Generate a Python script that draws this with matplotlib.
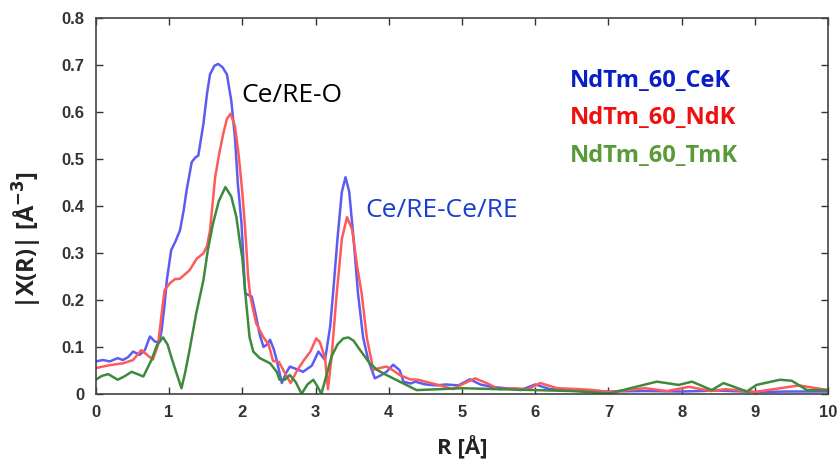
import matplotlib
matplotlib.use("Agg")
import matplotlib.pyplot as plt
from matplotlib.ticker import FuncFormatter

# NdTm_60_CeK (blue)
r_ce = [0, 0.10, 0.19, 0.30, 0.37, 0.44, 0.51, 0.60, 0.67, 0.74, 0.81, 0.87, 0.90, 0.94, 0.97,
        1.03, 1.09, 1.15, 1.20, 1.24, 1.31, 1.36, 1.40, 1.47, 1.52, 1.56, 1.62, 1.67, 1.73, 1.79,
        1.85, 1.90, 1.94, 1.99, 2.04, 2.09, 2.13, 2.19, 2.24, 2.29, 2.34, 2.38, 2.43, 2.47, 2.54,
        2.60, 2.65, 2.75, 2.83, 2.95, 3.04, 3.13, 3.20, 3.24, 3.30, 3.36, 3.41, 3.46, 3.52, 3.58,
        3.65, 3.72, 3.81, 3.90, 3.97, 4.06, 4.15, 4.20, 4.30, 4.36, 4.50, 4.65, 4.78, 4.95, 5.11,
        5.25, 5.40, 5.60, 5.80, 6.00, 6.20, 6.50, 7.00, 7.50, 8.00, 8.50, 9.00, 9.50, 10.0]
y_ce = [0.069, 0.072, 0.069, 0.076, 0.072, 0.078, 0.090, 0.083, 0.093, 0.122, 0.111, 0.110, 0.136, 0.190, 0.242,
        0.306, 0.325, 0.348, 0.390, 0.433, 0.493, 0.503, 0.507, 0.575, 0.640, 0.680, 0.698, 0.702, 0.695, 0.680,
        0.624, 0.546, 0.447, 0.362, 0.214, 0.210, 0.207, 0.164, 0.125, 0.100, 0.105, 0.115, 0.095, 0.072, 0.023,
        0.045, 0.058, 0.052, 0.047, 0.060, 0.090, 0.072, 0.143, 0.214, 0.330, 0.430, 0.461, 0.430, 0.330, 0.214,
        0.120, 0.072, 0.033, 0.040, 0.047, 0.062, 0.050, 0.026, 0.022, 0.026, 0.020, 0.018, 0.020, 0.018, 0.031,
        0.020, 0.015, 0.012, 0.008, 0.020, 0.010, 0.008, 0.005, 0.006, 0.005, 0.007, 0.004, 0.005, 0.005]

# NdTm_60_NdK (red)
r_nd = [0, 0.19, 0.37, 0.51, 0.62, 0.70, 0.78, 0.85, 0.90, 0.94, 1.01, 1.08, 1.15, 1.28, 1.38,
        1.47, 1.52, 1.56, 1.63, 1.69, 1.74, 1.79, 1.84, 1.90, 1.95, 2.00, 2.04, 2.08, 2.11, 2.19,
        2.29, 2.36, 2.42, 2.50, 2.58, 2.66, 2.75, 2.83, 2.93, 3.01, 3.06, 3.13, 3.17, 3.22, 3.29,
        3.36, 3.43, 3.50, 3.57, 3.63, 3.70, 3.79, 3.88, 3.97, 4.06, 4.15, 4.29, 4.40, 4.50, 4.70,
        4.88, 5.00, 5.18, 5.35, 5.50, 5.70, 5.90, 6.07, 6.30, 6.60, 6.80, 7.00, 7.50, 7.80, 8.10,
        8.40, 8.60, 9.00, 9.60, 10.0]
y_nd = [0.055, 0.061, 0.065, 0.072, 0.093, 0.083, 0.073, 0.104, 0.171, 0.221, 0.235, 0.244, 0.245, 0.263, 0.288,
        0.299, 0.315, 0.348, 0.461, 0.515, 0.553, 0.585, 0.596, 0.570, 0.510, 0.430, 0.350, 0.250, 0.207, 0.150,
        0.120, 0.105, 0.070, 0.068, 0.045, 0.023, 0.050, 0.069, 0.090, 0.118, 0.110, 0.076, 0.010, 0.080, 0.214,
        0.330, 0.376, 0.350, 0.270, 0.214, 0.120, 0.051, 0.055, 0.058, 0.050, 0.040, 0.031, 0.030, 0.026, 0.018,
        0.010, 0.020, 0.033, 0.022, 0.010, 0.012, 0.010, 0.023, 0.012, 0.010, 0.008, 0.004, 0.012, 0.006, 0.015,
        0.006, 0.010, 0.004, 0.018, 0.008]

# NdTm_60_TmK (green)
r_tm = [0, 0.08, 0.17, 0.30, 0.40, 0.49, 0.57, 0.65, 0.76, 0.84, 0.92, 0.98, 1.03, 1.10, 1.17,
        1.22, 1.28, 1.37, 1.47, 1.53, 1.60, 1.68, 1.77, 1.85, 1.92, 1.97, 2.00, 2.05, 2.10, 2.15,
        2.24, 2.38, 2.47, 2.51, 2.58, 2.65, 2.73, 2.81, 2.89, 2.97, 3.03, 3.08, 3.15, 3.22, 3.30,
        3.38, 3.45, 3.52, 3.60, 3.74, 3.85, 3.97, 4.15, 4.38, 4.70, 5.00, 5.50, 6.00, 6.50, 7.02,
        7.30, 7.66, 7.96, 8.14, 8.41, 8.57, 8.89, 9.02, 9.34, 9.50, 9.71, 10.0]
y_tm = [0.030, 0.038, 0.042, 0.030, 0.038, 0.047, 0.042, 0.037, 0.072, 0.105, 0.120, 0.105, 0.079, 0.045, 0.012,
        0.045, 0.093, 0.170, 0.242, 0.306, 0.362, 0.410, 0.440, 0.420, 0.376, 0.320, 0.290, 0.200, 0.120, 0.090,
        0.076, 0.065, 0.047, 0.030, 0.030, 0.040, 0.025, 0.000, 0.020, 0.030, 0.015, 0.000, 0.040, 0.080, 0.105,
        0.118, 0.120, 0.113, 0.095, 0.065, 0.050, 0.040, 0.026, 0.008, 0.010, 0.012, 0.010, 0.008, 0.006, 0.001,
        0.012, 0.026, 0.019, 0.026, 0.008, 0.023, 0.005, 0.019, 0.030, 0.028, 0.008, 0.008]

series_names = ["NdTm_60_CeK", "NdTm_60_NdK", "NdTm_60_TmK"]
x_ticks = list(range(0, 11))
y_ticks = [0, 0.1, 0.2, 0.3, 0.4, 0.5, 0.6, 0.7, 0.8]

fig = plt.figure(figsize=(8.4, 4.7), dpi=100)
ax = fig.add_axes([0.114, 0.162, 0.872, 0.800])

ax.plot(r_ce, y_ce, color="#5c5cf5", lw=1.8, solid_joinstyle="round")
ax.plot(r_nd, y_nd, color="#ff5a5a", lw=1.8, solid_joinstyle="round")
ax.plot(r_tm, y_tm, color="#3d8a3d", lw=1.8, solid_joinstyle="round")

ax.set_xlim(0, 10)
ax.set_ylim(0, 0.8)
ax.set_xticks(x_ticks)
ax.set_yticks(y_ticks)
ax.yaxis.set_major_formatter(FuncFormatter(lambda v, p: "0" if v == 0 else f"{v:.1f}"))
ax.tick_params(direction="in", top=True, right=True, length=5, width=1,
               colors="#333333", labelsize=12, pad=8)
for lab in ax.get_xticklabels() + ax.get_yticklabels():
    lab.set_fontweight("bold")
    lab.set_family("Liberation Sans")
for s in ax.spines.values():
    s.set_color("#444444")
    s.set_linewidth(1.2)

ax.set_xlabel("R [Å]", fontsize=16, fontweight="bold", family="Open Sans", color="#222222")
ax.xaxis.set_label_coords(0.5, -0.112)
ax.set_ylabel("|X(R)| [Å$^{\\mathbf{-3}}$]", fontsize=17, fontweight="bold", family="Open Sans",
              color="#222222")
ax.yaxis.set_label_coords(-0.071, 0.41)

ax.text(1.99, 0.635, "Ce/RE-O", fontsize=19, family="Open Sans", color="black", va="center")
ax.text(3.68, 0.390, "Ce/RE-Ce/RE", fontsize=19, family="Open Sans", color="#1a3fd0", va="center")

label_colors = ["#0a1ec8", "#f01010", "#5a9a3a"]
for i, (name, c) in enumerate(zip(series_names, label_colors)):
    ax.text(6.47, 0.665 - i * 0.079, name, fontsize=17, fontweight="bold", family="Open Sans",
            color=c, va="center")

fig.savefig("out.png", dpi=100)
